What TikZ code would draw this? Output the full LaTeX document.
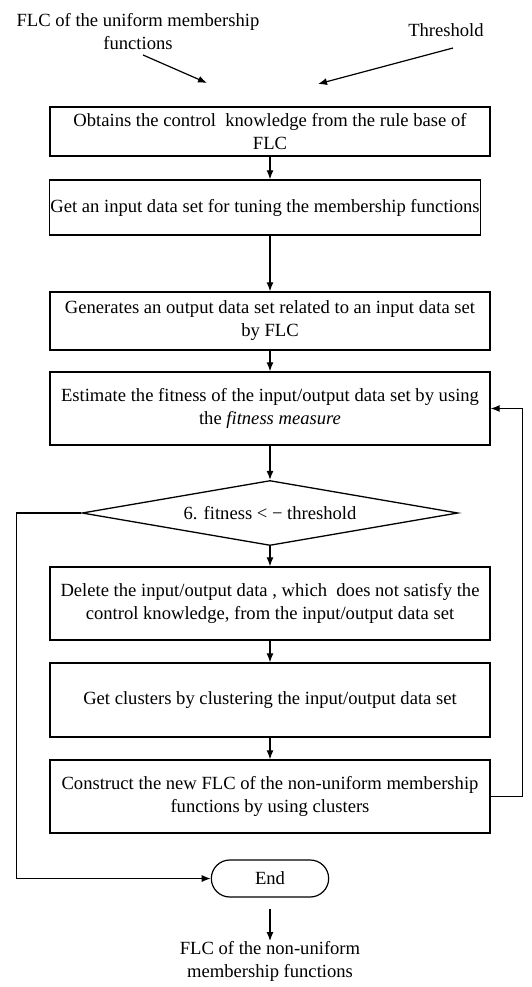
\documentclass[tikz,border=0pt]{standalone}
\usepackage{fontspec}
\setmainfont{Liberation Serif}
\usetikzlibrary{shapes.geometric,shapes.misc,arrows.meta}

\tikzset{
  stepbox/.style={draw, line width=1.4pt, minimum width=440pt, align=center, inner sep=1pt},
  decision/.style={draw, diamond, aspect=5.78, line width=1.3pt, minimum width=376pt, minimum height=65pt, inner sep=0pt},
  terminal/.style={draw, rounded rectangle, line width=1.2pt, minimum width=124pt, minimum height=37pt},
  txt/.style={align=center, inner sep=0pt},
  flow/.style={-{Latex[length=9pt,width=7pt]}, line width=1.2pt},
}

\begin{document}
\begin{tikzpicture}[x=1pt, y=-1pt, font=\fontsize{18.6}{23}\selectfont]
      \useasboundingbox (0, 0) rectangle (532, 987);

      \node[txt, anchor=north] (flctxt) at (138, 13) {FLC of the uniform membership\\functions};
      \node[txt] (thrtxt) at (446, 30) {Threshold};
      \coordinate (flcfrom) at (143, 55);
      \coordinate (flcto) at (207, 83);
      \coordinate (thrfrom) at (453, 48);
      \coordinate (thrto) at (318, 84);

      \node[stepbox, minimum height=49pt] (knowledge) at (270, 131.5) {Obtains the control\ \ knowledge from the rule base of\\FLC};
      \node[stepbox, minimum width=430pt, minimum height=55pt] (inputset) at (265, 207.5) {Get an input data set for tuning the membership functions};
      \node[stepbox, minimum height=58pt] (outputset) at (270, 321) {Generates an output data set related to an input data set\\by FLC};
      \node[stepbox, minimum height=73pt] (fitness) at (270, 408.5) {Estimate the fitness of the input/output data set by using\\the \textit{fitness measure}};
      \node[decision] (check) at (270, 513) {6. fitness < − threshold};
      \node[stepbox, minimum height=73pt] (delete) at (270, 603.5) {Delete the input/output data , which\ \ does not satisfy the\\control knowledge, from the input/output data set};
      \node[stepbox, minimum height=74pt] (cluster) at (270, 700) {Get clusters by clustering the input/output data set};
      \node[stepbox, minimum height=73pt] (construct) at (270, 796.5) {Construct the new FLC of the non-uniform membership\\functions by using clusters};
      \node[terminal] (endn) at (270, 878.5) {End};
      \node[txt, anchor=north] (result) at (270, 941) {FLC of the non-uniform\\membership functions};

      \draw[flow] (flcfrom) -- (flcto);
      \draw[flow] (thrfrom) -- (thrto);
      \draw[flow] (knowledge.south) -- (knowledge.south |- inputset.north);
      \draw[flow] (knowledge.south |- inputset.south) -- (outputset.north);
      \draw[flow] (outputset) -- (fitness);
      \draw[flow] (fitness) -- (check);
      \draw[flow] (check) -- (delete);
      \draw[flow] (delete) -- (cluster);
      \draw[flow] (cluster) -- (construct);
      \draw[flow] (construct.east) -- ++(32, 0) |- (fitness.east);
      \draw[flow] (check.west) -- ++(-65, 0) |- (endn.west);
      \draw[flow] ([yshift=-11pt]endn.south) -- (result.north);
    \end{tikzpicture}
\end{document}
